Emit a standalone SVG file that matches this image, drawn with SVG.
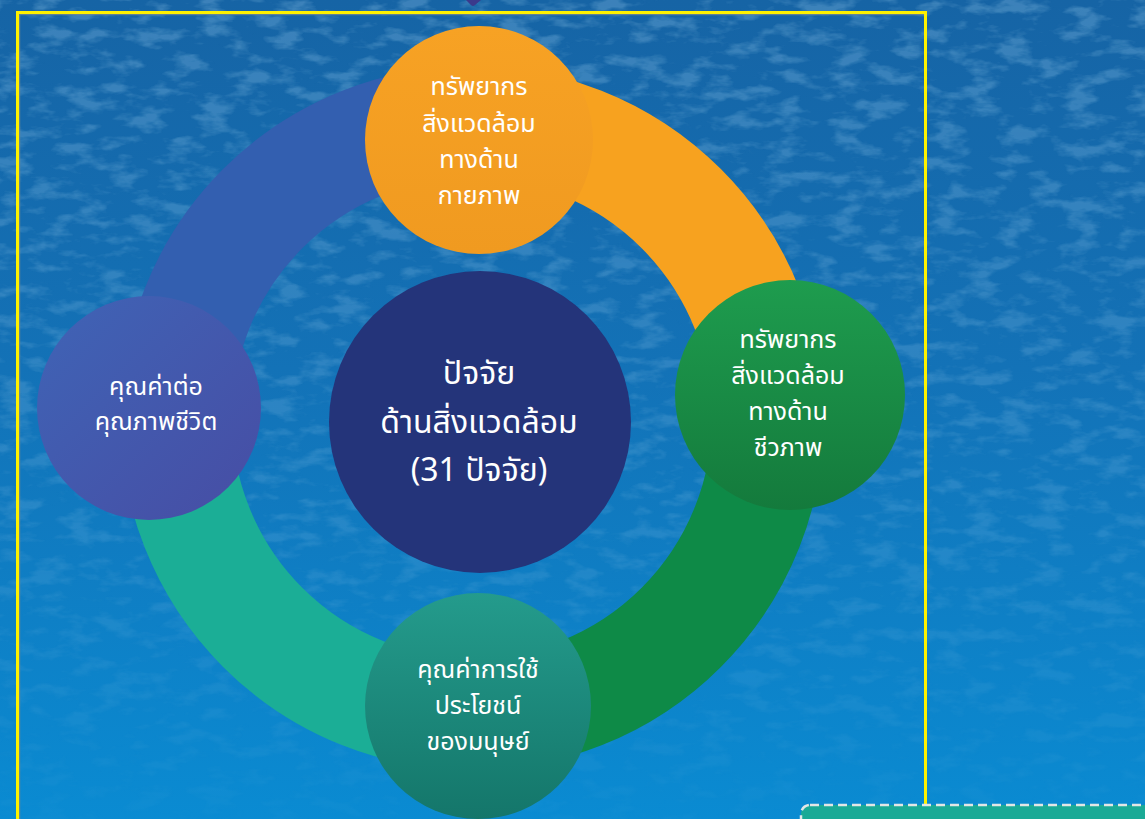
<svg xmlns="http://www.w3.org/2000/svg" width="1145" height="819" viewBox="0 0 1145 819">
<style>
  .lbl { font-family: "Noto Sans Thai", "Noto Sans Thai UI", "Noto Sans", "DejaVu Sans", sans-serif; fill: #FFFFFF; text-anchor: middle; font-size: 25px; font-weight: 400; }
  .lblc { font-size: 32px; }
  .seg { fill: none; stroke-width: 112; stroke-linecap: butt; }
</style>
<defs>
  <linearGradient id="bg" x1="0" y1="0" x2="0" y2="1">
    <stop offset="0" stop-color="#1664A5"/>
    <stop offset="0.45" stop-color="#1372B7"/>
    <stop offset="1" stop-color="#0A8BD2"/>
  </linearGradient>
  <linearGradient id="fade" x1="0" y1="0" x2="0" y2="1">
    <stop offset="0" stop-color="#fff" stop-opacity="1"/>
    <stop offset="0.6" stop-color="#fff" stop-opacity="0.6"/>
    <stop offset="1" stop-color="#fff" stop-opacity="0.1"/>
  </linearGradient>
  <mask id="fadeMask"><rect width="1145" height="819" fill="url(#fade)"/></mask>
  <filter id="tex" x="0" y="0" width="100%" height="100%">
    <feTurbulence type="fractalNoise" baseFrequency="0.03 0.07" numOctaves="4" seed="11" result="n"/>
    <feColorMatrix in="n" type="matrix" values="0 0 0 0 0.30  0 0 0 0 0.58  0 0 0 0 0.82  0 0 0 4 -1.9"/>
  </filter>
  <linearGradient id="gOrange" x1="0" y1="0" x2="0" y2="1">
    <stop offset="0" stop-color="#F7A224"/>
    <stop offset="1" stop-color="#F09A20"/>
  </linearGradient>
  <linearGradient id="gGreen" x1="0" y1="0" x2="0" y2="1">
    <stop offset="0" stop-color="#1E9C4E"/>
    <stop offset="1" stop-color="#147A3C"/>
  </linearGradient>
  <linearGradient id="gTeal" x1="0" y1="0" x2="0" y2="1">
    <stop offset="0" stop-color="#249B8C"/>
    <stop offset="1" stop-color="#14766A"/>
  </linearGradient>
  <linearGradient id="gPurple" x1="0" y1="0" x2="1" y2="1">
    <stop offset="0" stop-color="#3F64B6"/>
    <stop offset="1" stop-color="#474DA4"/>
  </linearGradient>
</defs>

<!-- background -->
<rect width="1145" height="819" fill="url(#bg)"/>
<g mask="url(#fadeMask)">
  <rect width="1145" height="819" filter="url(#tex)" opacity="0.3"/>
</g>

<!-- top arrow tip -->
<path d="M466,0 L481,0 L475,5 Q473,7 471,5 Z" fill="#3B3A8C"/>

<!-- frame -->
<rect x="19.5" y="14.5" width="906" height="840" fill="none" stroke="#6F8890" stroke-width="1.5" opacity="0.8"/>
<rect x="17.5" y="12.5" width="908" height="840" fill="none" stroke="#FFF200" stroke-width="3"/>

<!-- ring (connectors) -->
<g id="connectors">
  <path class="seg" stroke="#335FB0" d="M176,418 A296,296 0 0 1 472,122"/>
  <path class="seg" stroke="#F7A21F" d="M472,122 A296,296 0 0 1 768,418"/>
  <path class="seg" stroke="#0E8A47" d="M768,418 A296,296 0 0 1 472,714"/>
  <path class="seg" stroke="#1BAE96" d="M472,714 A296,296 0 0 1 176,418"/>
</g>

<!-- center -->
<g id="node-center">
  <circle cx="480" cy="422" r="151" fill="#24347A"/>
  <text class="lbl lblc" x="479" y="384">ปัจจัย</text>
  <text class="lbl lblc" x="479" y="433">ด้านสิ่งแวดล้อม</text>
  <text class="lbl lblc" x="479" y="481">(31 ปัจจัย)</text>
</g>

<!-- top -->
<g id="node-physical">
  <circle cx="479" cy="140" r="114" fill="url(#gOrange)"/>
  <text class="lbl" x="479" y="95">ทรัพยากร</text>
  <text class="lbl" x="479" y="132">สิ่งแวดล้อม</text>
  <text class="lbl" x="479" y="168">ทางด้าน</text>
  <text class="lbl" x="479" y="204">กายภาพ</text>
</g>

<!-- right -->
<g id="node-biological">
  <circle cx="790" cy="395" r="115" fill="url(#gGreen)"/>
  <text class="lbl" x="788" y="348">ทรัพยากร</text>
  <text class="lbl" x="788" y="384">สิ่งแวดล้อม</text>
  <text class="lbl" x="788" y="420">ทางด้าน</text>
  <text class="lbl" x="788" y="456">ชีวภาพ</text>
</g>

<!-- bottom -->
<g id="node-human-use">
  <circle cx="478" cy="706" r="113" fill="url(#gTeal)"/>
  <text class="lbl" x="478" y="678">คุณค่าการใช้</text>
  <text class="lbl" x="478" y="714">ประโยชน์</text>
  <text class="lbl" x="478" y="750">ของมนุษย์</text>
</g>

<!-- left -->
<g id="node-quality-of-life">
  <circle cx="149" cy="408" r="112" fill="url(#gPurple)"/>
  <text class="lbl" x="156" y="395">คุณค่าต่อ</text>
  <text class="lbl" x="156" y="430">คุณภาพชีวิต</text>
</g>

<!-- bottom-right dashed box -->
<rect x="801" y="805" width="380" height="60" rx="9" fill="#1AAA96" stroke="#E2E6E6" stroke-width="2.5" stroke-dasharray="9 5"/>
</svg>
